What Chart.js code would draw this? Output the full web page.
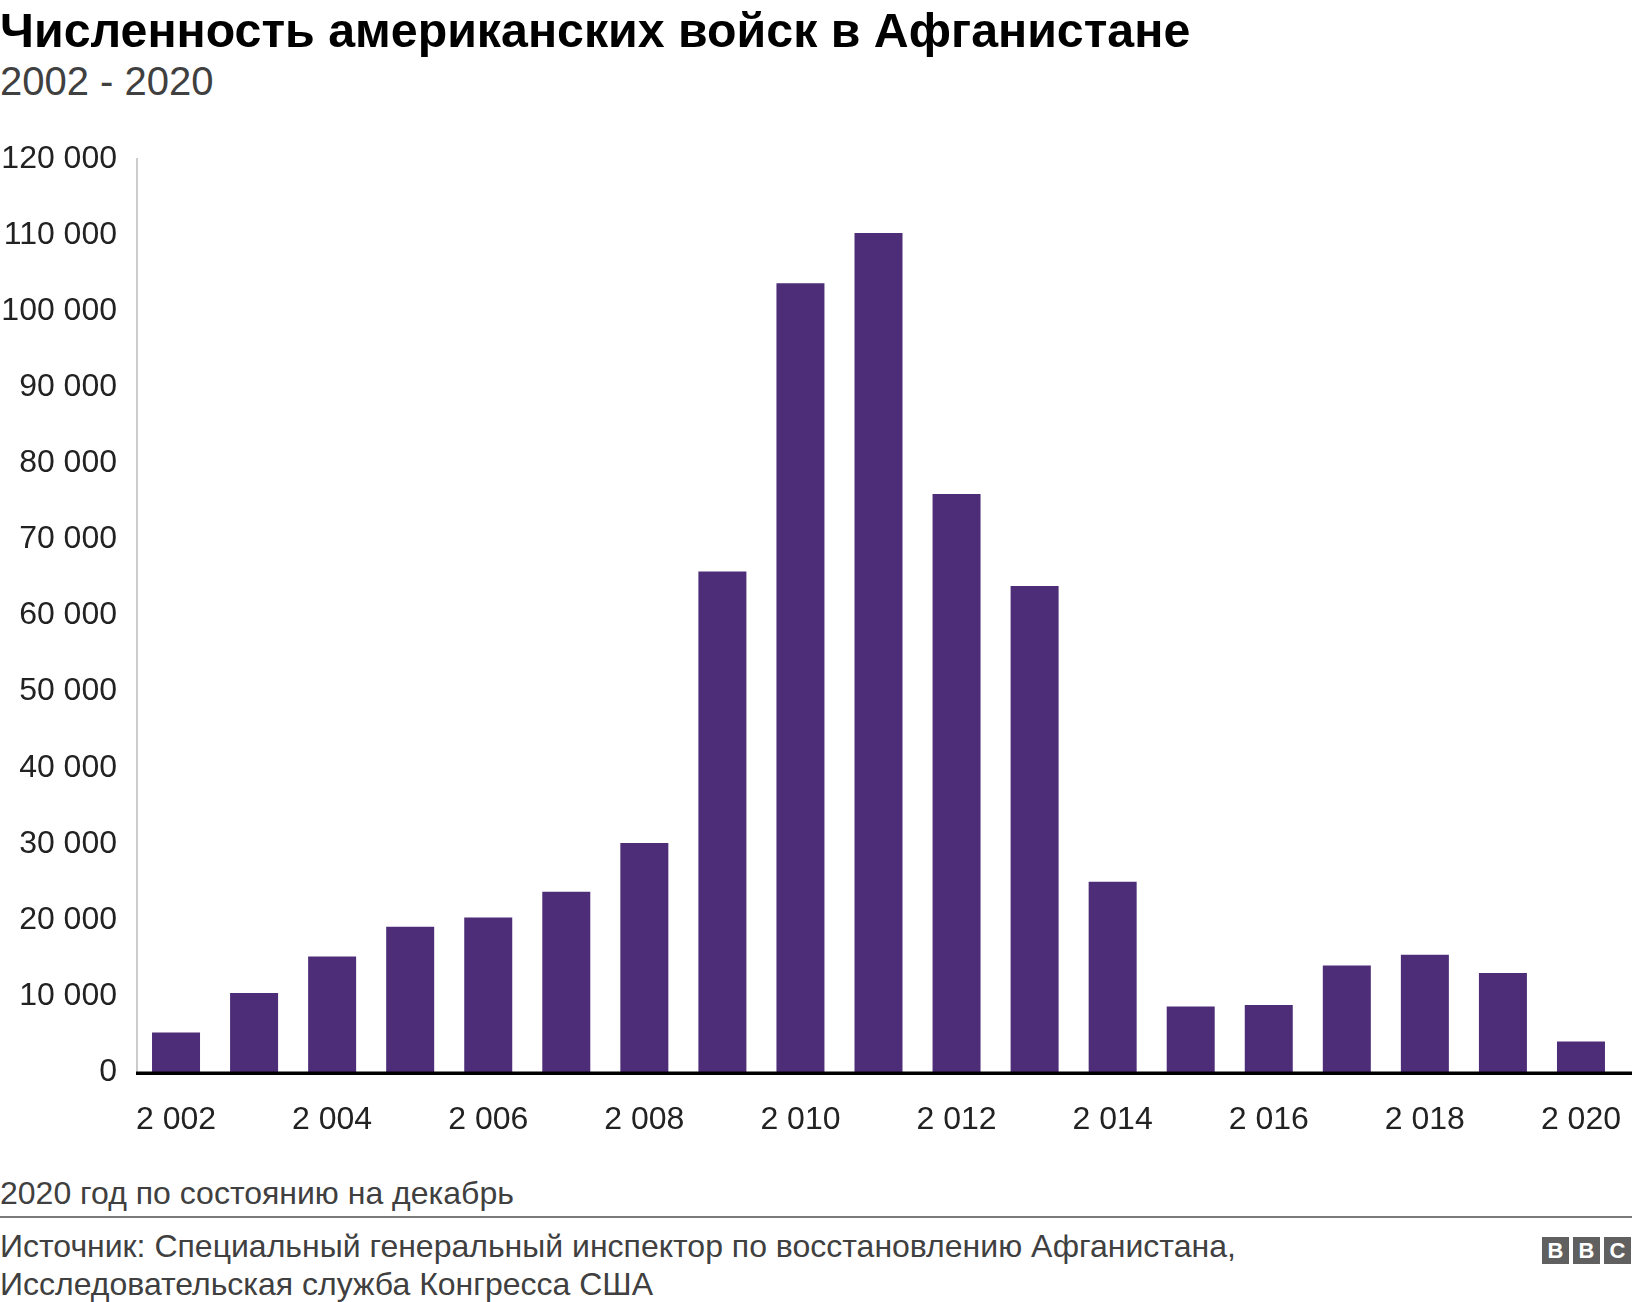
<!DOCTYPE html>
<html lang="ru">
<head>
<meta charset="utf-8">
<title>Численность американских войск в Афганистане</title>
<script src="https://cdn.jsdelivr.net/npm/chart.js@4.4.1/dist/chart.umd.min.js"></script>
<style>
  html, body { margin: 0; padding: 0; background: #fff; }
  body { width: 1632px; height: 1302px; position: relative; overflow: hidden;
         font-family: "Liberation Sans", Arial, Helvetica, sans-serif; }
  .title { position: absolute; left: 0; top: 2px; font-size: 48.3px; font-weight: bold; color: #000; white-space: nowrap; }
  .subtitle { position: absolute; left: 0; top: 59px; font-size: 40px; color: #404040; white-space: nowrap; }
  #wrap { position: absolute; left: 0; top: 120px; width: 1632px; height: 1040px; }
  .note { position: absolute; left: 0; top: 1175px; font-size: 32px; color: #404040; white-space: nowrap; }
  .rule { position: absolute; left: 0; top: 1216px; width: 1632px; height: 2px; background: #7a7a7a; }
  .source { position: absolute; left: 0; top: 1227px; font-size: 32px; line-height: 38px; color: #404040; white-space: nowrap; }
  .bbc { position: absolute; left: 1542px; top: 1237px; display: flex; gap: 4px; }
  .bbc span { display: block; width: 27px; height: 27px; background: #606060; color: #fff;
              font-weight: bold; font-size: 22px; line-height: 27px; text-align: center; }
</style>
</head>
<body>
<div class="title">Численность американских войск в Афганистане</div>
<div class="subtitle">2002 - 2020</div>
<div id="wrap"><canvas id="troops"></canvas></div>
<div class="note">2020 год по состоянию на декабрь</div>
<div class="rule"></div>
<div class="source">Источник: Специальный генеральный инспектор по восстановлению Афганистана,<br>Исследовательская служба Конгресса США</div>
<div class="bbc"><span>B</span><span>B</span><span>C</span></div>

<script>
// Data
const years = [2002, 2003, 2004, 2005, 2006, 2007, 2008, 2009, 2010, 2011,
               2012, 2013, 2014, 2015, 2016, 2017, 2018, 2019, 2020];
const troops = [5200, 10400, 15200, 19100, 20300, 23700, 30100, 65800, 103700, 110300,
                76000, 63900, 25000, 8600, 8800, 14000, 15400, 13000, 4000];

// Number with space as thousands separator, e.g. 120 000
function spaced(n) {
    return String(n).replace(/\B(?=(\d{3})+(?!\d))/g, ' ');
}

// Thick black baseline running to the right edge
const baseline = {
    id: 'baseline',
    afterDatasetsDraw(chart) {
        const ctx = chart.ctx;
        const y0 = chart.scales.y.getPixelForValue(0);
        ctx.save();
        ctx.fillStyle = '#000';
        ctx.fillRect(chart.chartArea.left - 1, y0 - 0.5, chart.width, 3.5);
        ctx.restore();
    }
};

const tickFont = { family: '"Liberation Sans", Arial, sans-serif', size: 32 };

new Chart(document.getElementById('troops'), {
    type: 'bar',
    data: {
        labels: years,
        datasets: [{
            label: 'Войска США',
            data: troops,
            backgroundColor: '#4d2d78',
            barPercentage: 1,
            categoryPercentage: 0.615
        }]
    },
    options: {
        responsive: true,
        maintainAspectRatio: false,
        animation: false,
        layout: { padding: { top: 35, right: 12, left: 0, bottom: 0 } },
        plugins: {
            legend: { display: false },
            tooltip: { enabled: false }
        },
        scales: {
            x: {
                grid: { display: false, drawTicks: false },
                border: { display: false },
                ticks: {
                    autoSkip: false,
                    maxRotation: 0,
                    padding: 29,
                    color: '#222',
                    font: tickFont,
                    callback: (val, i) => i % 2 === 0 ? spaced(years[i]) : ''
                },
                afterFit(scale) {
                    scale.height = 88;
                    // keep the last label from shrinking the plot
                    scale.paddingLeft = 0;
                    scale.paddingRight = 0;
                }
            },
            y: {
                min: 0,
                max: 120000,
                grid: { display: false, drawTicks: false },
                border: { display: true, color: '#cccccc', width: 2 },
                ticks: {
                    stepSize: 10000,
                    padding: 20,
                    color: '#222',
                    font: tickFont,
                    callback: (val) => spaced(val)
                },
                afterFit(scale) { scale.width = 137; }
            }
        }
    },
    plugins: [baseline]
});
</script>
</body>
</html>
